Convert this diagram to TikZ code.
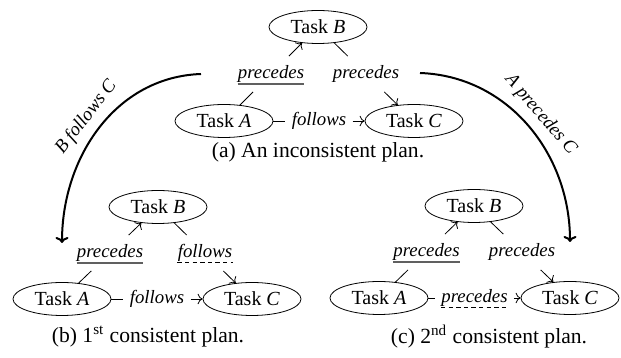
\documentclass[tikz,border=0pt]{standalone}
\usepackage{fontspec}
\setmainfont{Liberation Serif}
\usetikzlibrary{arrows.meta,calc,shapes.geometric}
\tikzset{
  task/.style={draw,ellipse,minimum width=49pt,minimum height=16.5pt,inner sep=1pt,font=\rmfamily\fontsize{10}{11}\selectfont},
  rel/.style={font=\rmfamily\fontsize{9.4}{11}\selectfont\itshape,inner xsep=3pt,inner ysep=4.5pt},
  capt/.style={font=\rmfamily\fontsize{10.8}{12}\selectfont},
  keepline/.style={gray!75!black,line width=0.9pt},
  flipline/.style={dash pattern=on 2.2pt off 1.6pt,line width=0.5pt},
  bigarc/.style={-{To[length=3pt,width=6.5pt]},line width=1pt},
}

\begin{document}
\begin{tikzpicture}[x=0.5pt,y=0.5pt]
\useasboundingbox (0,0) rectangle (621,358);
% (a) inconsistent plan
\node[task] (aB) at (318,331) {Task \textit{B}};
\node[task] (aA) at (224,237) {Task \textit{A}};
\node[task] (aC) at (414,237) {Task \textit{C}};
\node[rel] (aAB) at ($(aA)!0.5!(aB)$) {precedes};
\node[rel] (aBC) at ($(aB)!0.5!(aC)$) {precedes};
\node[rel] (aAC) at ($(aA)!0.5!(aC)$) {follows};
\draw (aA)--(aAB); \draw[->] (aAB)--(aB);
\draw (aB)--(aBC); \draw[->] (aBC)--(aC);
\draw (aA)--(aAC); \draw[->] (aAC)--(aC);
\draw[keepline] ([xshift=3pt,yshift=-2.6pt]aAB.base west)--([xshift=-3pt,yshift=-2.6pt]aAB.base east);
\node[capt] (acap) at (318,206) {(a) An inconsistent plan.};

% (b) 1st consistent plan
\node[task] (bB) at (158,151) {Task \textit{B}};
\node[task] (bA) at (62,59) {Task \textit{A}};
\node[task] (bC) at (252,59) {Task \textit{C}};
\node[rel] (bAB) at ($(bA)!0.5!(bB)$) {precedes};
\node[rel] (bBC) at ($(bB)!0.5!(bC)$) {follows};
\node[rel] (bAC) at ($(bA)!0.5!(bC)$) {follows};
\draw (bA)--(bAB); \draw[->] (bAB)--(bB);
\draw (bB)--(bBC); \draw[->] (bBC)--(bC);
\draw (bA)--(bAC); \draw[->] (bAC)--(bC);
\draw[keepline] ([xshift=3pt,yshift=-2.6pt]bAB.base west)--([xshift=-3pt,yshift=-2.6pt]bAB.base east);
\draw[flipline] ([xshift=3pt,yshift=-2.6pt]bBC.base west)--([xshift=-3pt,yshift=-2.6pt]bBC.base east);
\node[capt] (bcap) at (148,21) {(b) 1\textsuperscript{st} consistent plan.};

% (c) 2nd consistent plan
\node[task] (cB) at (474,152) {Task \textit{B}};
\node[task] (cA) at (379,60) {Task \textit{A}};
\node[task] (cC) at (570,60) {Task \textit{C}};
\node[rel] (cAB) at ($(cA)!0.5!(cB)$) {precedes};
\node[rel] (cBC) at ($(cB)!0.5!(cC)$) {precedes};
\node[rel] (cAC) at ($(cA)!0.5!(cC)$) {precedes};
\draw (cA)--(cAB); \draw[->] (cAB)--(cB);
\draw (cB)--(cBC); \draw[->] (cBC)--(cC);
\draw (cA)--(cAC); \draw[->] (cAC)--(cC);
\draw[keepline] ([xshift=3pt,yshift=-2.6pt]cAB.base west)--([xshift=-3pt,yshift=-2.6pt]cAB.base east);
\draw[flipline] ([xshift=3pt,yshift=-2.6pt]cAC.base west)--([xshift=-3pt,yshift=-2.6pt]cAC.base east);
\node[capt] (ccap) at (489,21) {(c) 2\textsuperscript{nd} consistent plan.};

% repairs
\coordinate (lfrom) at (201,284);
\coordinate (lto) at (62,115);
\coordinate (rfrom) at (420,285);
\coordinate (rto) at (570,116);
\draw[bigarc] (lfrom) to[out=182,in=90] node[rel,sloped,above,inner ysep=3.5pt] {\textit{B} follows \textit{C}} (lto);
\draw[bigarc] (rfrom) to[out=-2,in=90] node[rel,sloped,above,inner ysep=3.5pt] {\textit{A} precedes \textit{C}} (rto);
\end{tikzpicture}
\end{document}
